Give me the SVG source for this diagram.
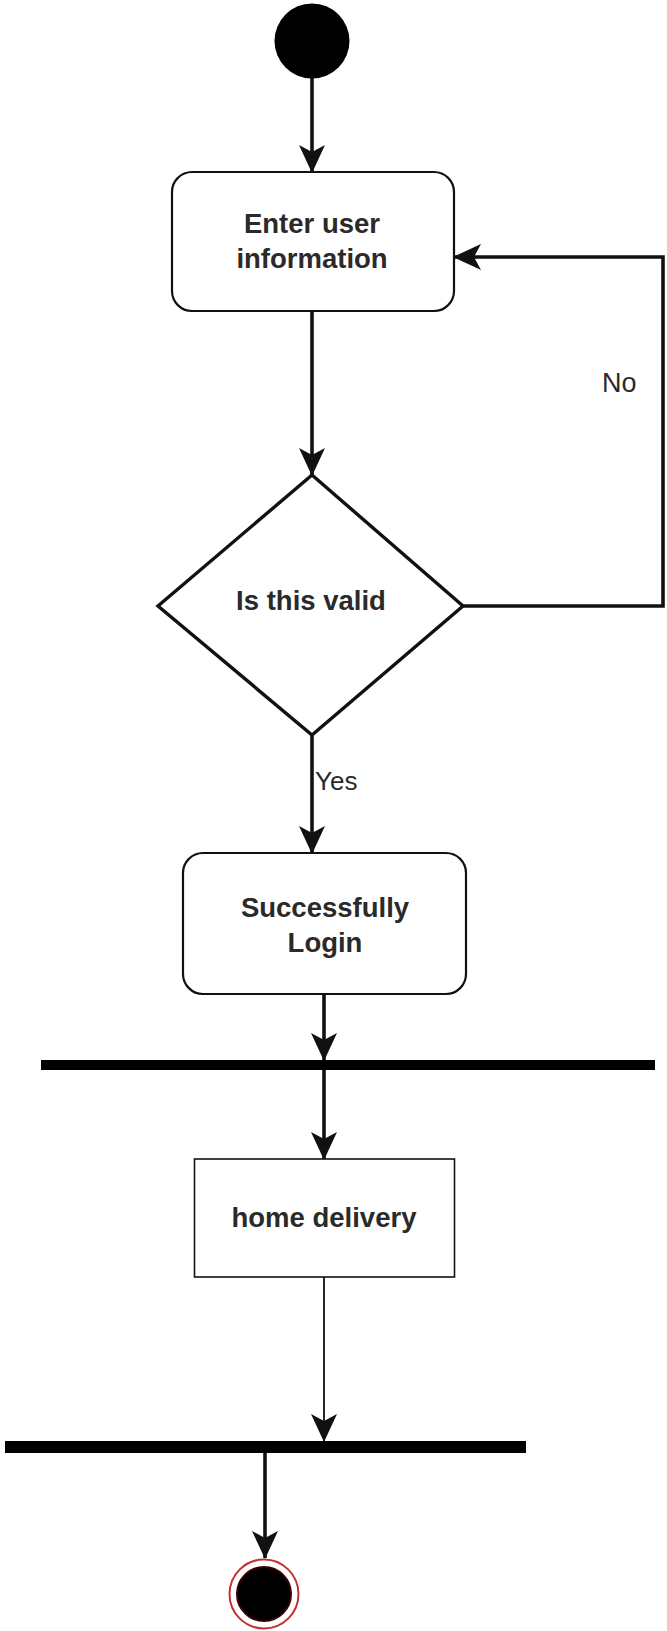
<svg xmlns="http://www.w3.org/2000/svg" width="667" height="1631" viewBox="0 0 667 1631">
<style>
.box{fill:#fff;stroke:#111;stroke-width:2.2}
.lbl{font-family:"Liberation Sans",Arial,sans-serif;font-weight:bold;font-size:27.5px;fill:#2a2a2a;text-anchor:middle}
.edge{font-family:"Liberation Sans",Arial,sans-serif;font-size:26px;fill:#2a2a2a}
.ln{fill:none;stroke:#111;stroke-width:3.6}
.thin{fill:none;stroke:#111;stroke-width:1.8}
.bar{fill:#000}
</style>
<defs>
<marker id="arr" markerUnits="userSpaceOnUse" markerWidth="28" markerHeight="28" viewBox="0 0 28 28" refX="27" refY="14" orient="auto">
<path d="M0,1 L28,14 L0,27 L7,14 Z" fill="#111"/>
</marker>
</defs>
<rect width="667" height="1631" fill="#fff"/>
<g id="connectors">
<path class="ln" d="M312,78 V172" marker-end="url(#arr)"/>
<path class="ln" d="M312,311 V475" marker-end="url(#arr)"/>
<path class="ln" d="M312,735 V853" marker-end="url(#arr)"/>
<text class="edge" x="315" y="790">Yes</text>
<path class="ln" d="M463,606 H663 V257 H454" marker-end="url(#arr)"/>
<text class="edge" x="602" y="392" style="font-size:27px">No</text>
<path class="ln" d="M324,994 V1060" marker-end="url(#arr)"/>
<path class="ln" d="M324,1070 V1159" marker-end="url(#arr)"/>
<path class="thin" d="M324,1277 V1441" marker-end="url(#arr)"/>
<path class="ln" d="M265,1453 V1558" marker-end="url(#arr)"/>
</g>
<g id="start">
<circle cx="312" cy="41" r="37.5" fill="#000"/>
</g>
<g id="enter-user-information">
<rect class="box" x="172" y="172" width="282" height="139" rx="20"/>
<text class="lbl" x="312" y="233">Enter user</text>
<text class="lbl" x="312" y="268">information</text>
</g>
<g id="is-this-valid">
<polygon class="box" points="312,475 463,606 312,735 158,606" style="stroke-width:3.4"/>
<text class="lbl" x="311" y="610">Is this valid</text>
</g>
<g id="successfully-login">
<rect class="box" x="183" y="853" width="283" height="141" rx="20"/>
<text class="lbl" x="325" y="917">Successfully</text>
<text class="lbl" x="325" y="952">Login</text>
</g>
<g id="fork-bar">
<rect class="bar" x="41" y="1060" width="614" height="10"/>
</g>
<g id="home-delivery">
<rect class="box" x="194.5" y="1159" width="260" height="118" style="stroke-width:1.6"/>
<text class="lbl" x="324" y="1227">home delivery</text>
</g>
<g id="join-bar">
<rect class="bar" x="5" y="1441" width="521" height="12"/>
</g>
<g id="end">
<circle cx="264" cy="1594" r="34.5" fill="#fff" stroke="#c43030" stroke-width="2"/>
<circle cx="264" cy="1594" r="27" fill="#000" stroke="#3a0000" stroke-width="2"/>
</g>
</svg>
